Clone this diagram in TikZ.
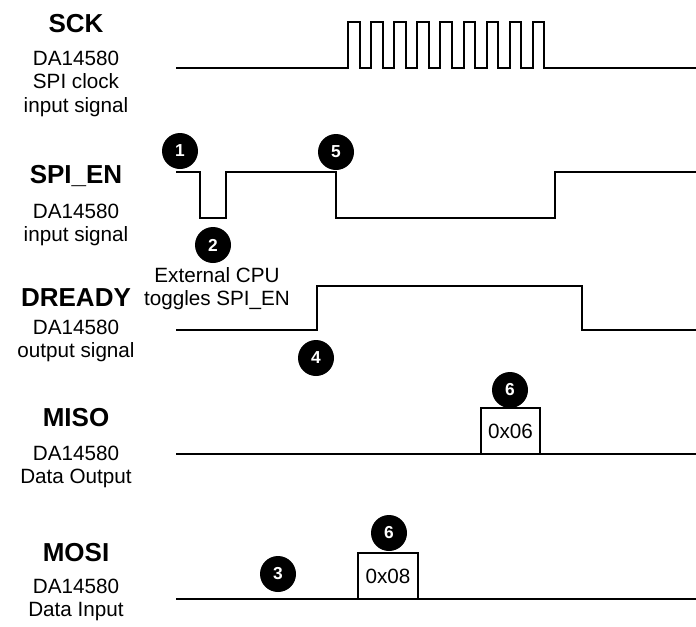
\documentclass[tikz,border=0pt]{standalone}
\usepackage{fontspec}
\setmainfont{Liberation Sans}
\begin{document}
\begin{tikzpicture}[x=0.75pt,y=-0.75pt,
  title/.style={font=\fontsize{19.5}{22}\selectfont\bfseries, anchor=base, inner sep=0},
  sub/.style={font=\fontsize{15.5}{18}\selectfont, anchor=base, inner sep=0},
  num/.style={circle, fill=black, text=white, font=\fontsize{13}{13}\selectfont\bfseries, minimum size=27pt, inner sep=0},
  hexbox/.style={draw, line width=1.5pt, minimum width=44.5pt, minimum height=34.5pt, inner sep=0, font=\fontsize{15.5}{18}\selectfont},
  wave/.style={line width=1.5pt, line join=miter}]
\useasboundingbox (0,0) rectangle (696,626);

% labels
\node[title] (sckT) at (76,32) {SCK};
\node[sub] (sck1) at (76,65) {DA14580};
\node[sub] (sck2) at (76,88.5) {SPI clock};
\node[sub] (sck3) at (76,112) {input signal};

\node[title] (enT) at (76,183) {SPI\_EN};
\node[sub] (en1) at (76,218) {DA14580};
\node[sub] (en2) at (76,241.5) {input signal};

\node[title] (drT) at (76,306) {DREADY};
\node[sub] (dr1) at (76,334) {DA14580};
\node[sub] (dr2) at (76,357.5) {output signal};

\node[title] (misoT) at (76,426) {MISO};
\node[sub] (miso1) at (76,460) {DA14580};
\node[sub] (miso2) at (76,483.5) {Data Output};

\node[title] (mosiT) at (76,561) {MOSI};
\node[sub] (mosi1) at (76,593) {DA14580};
\node[sub] (mosi2) at (76,616.5) {Data Input};

\node[sub] (ext1) at (217,282) {External CPU};
\node[sub] (ext2) at (217,305.5) {toggles SPI\_EN};

% waveforms
\draw[wave] (176,68) -- (348,68)
  foreach \i in {0,...,8} { -- ({348+23.1*\i},68) -- ({348+23.1*\i},22) -- ({359.5+23.1*\i},22) -- ({359.5+23.1*\i},68) }
  -- (696,68);
\draw[wave] (176,172) -- (200,172) -- (200,218) -- (226,218) -- (226,172) -- (336,172) -- (336,218) -- (555,218) -- (555,172) -- (696,172);
\draw[wave] (176,330) -- (317,330) -- (317,286) -- (582,286) -- (582,330) -- (696,330);
\draw[wave] (176,454) -- (696,454);
\draw[wave] (176,599) -- (696,599);

% data boxes
\node[hexbox, fill=white] (misoBox) at (510.5,431) {0x06};
\node[hexbox, fill=white] (mosiBox) at (388,576) {0x08};

% step markers
\node[num] (s1) at (180,151) {1};
\node[num] (s5) at (336,152) {5};
\node[num] (s2) at (213,245) {2};
\node[num] (s4) at (316,358) {4};
\node[num] (s6a) at (510,390) {6};
\node[num] (s6b) at (389,533) {6};
\node[num] (s3) at (278,574) {3};
\end{tikzpicture}
\end{document}
